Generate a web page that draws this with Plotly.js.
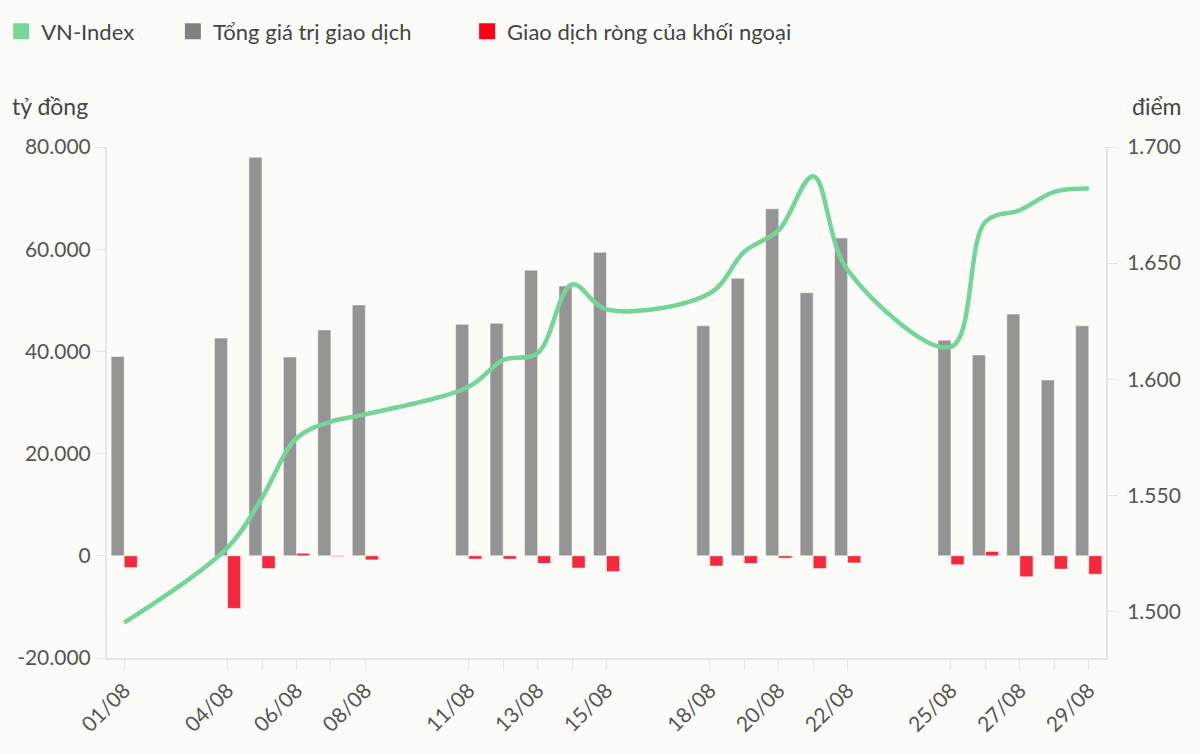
<!DOCTYPE html>
<html>
<head>
<meta charset="utf-8">
<script src="https://cdn.plot.ly/plotly-3.0.1.min.js"></script>
<style>html,body{margin:0;padding:0;background:#fbfcf7;}#chart{width:1200px;height:754px;}</style>
</head>
<body>
<div id="chart"></div>
<script>
var dates = ['2025-08-01','2025-08-04','2025-08-05','2025-08-06','2025-08-07','2025-08-08',
  '2025-08-11','2025-08-12','2025-08-13','2025-08-14','2025-08-15',
  '2025-08-18','2025-08-19','2025-08-20','2025-08-21','2025-08-22',
  '2025-08-25','2025-08-26','2025-08-27','2025-08-28','2025-08-29'];
var dateLabels = ['01/08','04/08','','06/08','','08/08','11/08','','13/08','','15/08',
  '18/08','','20/08','','22/08','25/08','','27/08','','29/08'];
var totalValue = [39000,42600,78000,38900,44200,49100,45300,45500,55900,52800,59400,
  45000,54300,67900,51500,62200,42200,39300,47300,34400,45000];
var foreignNet = [-2300,-10300,-2500,500,-150,-800,-650,-650,-1500,-2400,-3100,
  -2000,-1500,-450,-2500,-1400,-1750,850,-4100,-2600,-3600];
var vnIndex = [1495.2,1527.5,1549,1574.6,1581.8,1584.9,1596.8,1608.3,1611.2,1640.8,1630.1,
  1637,1654.9,1664.2,1687.4,1647,1614,1667.8,1672.8,1680.7,1682.1];
var leftTickVals = [-20000,0,20000,40000,60000,80000];
var leftTickText = ['-20.000','0','20.000','40.000','60.000','80.000'];
var seriesNames = ['VN-Index','Tổng giá trị giao dịch','Giao dịch ròng của khối ngoại'];

var cGreen = '#74d598', cGrey = '#949494', cRed = '#f5283d';
var font = 'Lato, "Noto Sans", sans-serif';
var pad1 = '\u00a0\u00a0\u00a0\u00a0\u00a0\u00a0';
var pad2 = '\u00a0\u00a0\u00a0\u00a0\u00a0\u00a0\u00a0\u00a0\u00a0';

var traces = [
  {type:'bar', x:dates, y:totalValue, name:seriesNames[1], marker:{color:cGrey, line:{color:'rgba(255,255,255,0.5)', width:1}}, showlegend:false},
  {type:'bar', x:dates, y:foreignNet, name:seriesNames[2], marker:{color:cRed, line:{color:'rgba(255,255,255,0.5)', width:1}}, showlegend:false},
  {type:'scatter', mode:'lines', x:dates, y:vnIndex, yaxis:'y2', name:seriesNames[0], line:{color:cGreen, width:4.5, shape:'spline', smoothing:1}, showlegend:false},
  {type:'scatter', mode:'markers', x:[null], y:[null], name:seriesNames[0] + pad1, marker:{symbol:'square', size:16, color:'#79d69b'}},
  {type:'scatter', mode:'markers', x:[null], y:[null], name:seriesNames[1] + pad2, marker:{symbol:'square', size:16, color:'#808080'}},
  {type:'scatter', mode:'markers', x:[null], y:[null], name:seriesNames[2], marker:{symbol:'square', size:16, color:'#ff0016'}}
];

var axisLine = '#e6e6e6';
var tickFont = {family:font, size:21, color:'#555'};
var layout = {
  width:1200, height:754,
  paper_bgcolor:'#fbfcf7', plot_bgcolor:'#fbfcf7',
  font:{family:font, size:21, color:'#555'},
  margin:{l:107, r:94, t:147, b:96},
  barmode:'group', bargap:0.24, bargroupgap:0,
  separators:',.',
  showlegend:true,
  legend:{orientation:'h', xref:'container', yref:'container', x:0.001, y:0.986, yanchor:'top', xanchor:'left',
    font:{family:font, size:22, color:'#444'}, itemwidth:30, traceorder:'normal'},
  xaxis:{type:'date', range:['2025-07-31 12:00','2025-08-29 12:00'], tickvals:dates, ticktext:dateLabels,
    tickangle:-45, ticks:'outside', ticklen:10, tickcolor:axisLine, showline:true, linecolor:axisLine, linewidth:2,
    showgrid:false, zeroline:false, tickfont:tickFont},
  yaxis:{range:[-20000,80000], tickvals:leftTickVals, ticktext:leftTickText, ticks:'outside', ticklen:10, tickcolor:axisLine,
    showline:true, linecolor:axisLine, linewidth:2, showgrid:false, zeroline:false, tickfont:tickFont},
  yaxis2:{overlaying:'y', side:'right', range:[1480,1700], tickvals:[1500,1550,1600,1650,1700], tickformat:',d', separatethousands:true,
    ticks:'outside', ticklen:10, tickcolor:axisLine, showline:true, linecolor:axisLine, linewidth:2, showgrid:false, zeroline:false,
    tickfont:tickFont, ticklabelstandoff:5},
  annotations:[
    {text:'tỷ đồng', xref:'paper', yref:'paper', x:-0.097, y:1.08, xanchor:'left', yanchor:'middle', showarrow:false, font:{family:font, size:23, color:'#444'}},
    {text:'điểm', xref:'paper', yref:'paper', x:1.077, y:1.08, xanchor:'right', yanchor:'middle', showarrow:false, font:{family:font, size:23, color:'#444'}}
  ]
};
Plotly.newPlot('chart', traces, layout, {displayModeBar:false, staticPlot:true});
</script>
</body>
</html>
